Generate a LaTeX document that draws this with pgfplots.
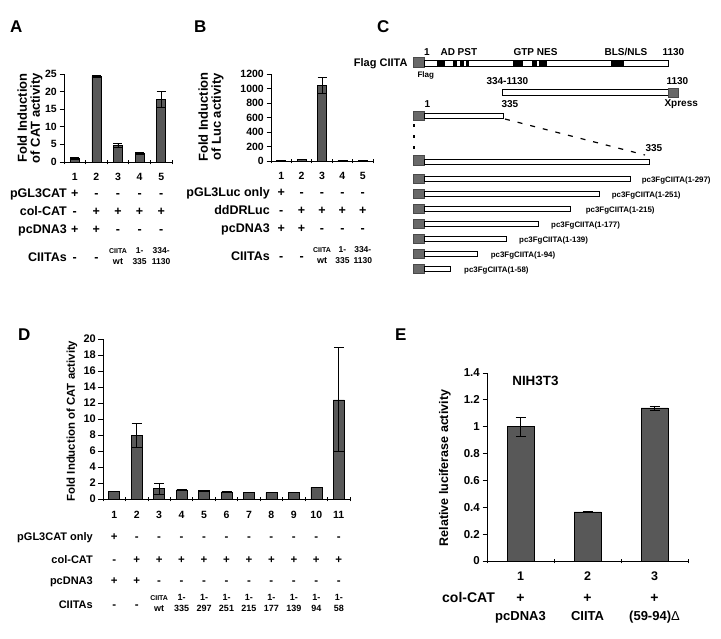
\documentclass[border=0pt]{standalone}
\usepackage{fontspec}
\setmainfont{Liberation Sans}[UprightFont=* Bold, BoldFont=* Bold]
\newfontfamily\regfont{Liberation Sans}
\usepackage{pgfplots}
\pgfplotsset{compat=1.18}

\definecolor{barc}{RGB}{88,88,88}
\definecolor{flagc}{RGB}{105,105,105}

\newcommand{\fsz}[2]{\fontsize{#1}{#2}\selectfont}
% two-line entry of the CIITAs row
\newcommand{\two}[3][9]{\raisebox{2pt}{\smash{\fsz{#1}{11}\begin{tabular}[c]{@{}c@{}}#2\\#3\end{tabular}}}}
\newcommand{\wt}{\two{{\fsz{7}{8}CIITA}}{wt}}
% columns of the tables under the bars
\newcommand{\stkAB}[5]{\begin{tabular}[t]{@{}c@{}}{\fsz{10.5}{12}#1}\\[2pt]#2\\[3pt]#3\\[3pt]#4\\[13pt]#5\end{tabular}}
\newcommand{\stkD}[5]{\begin{tabular}[t]{@{}c@{}}{\fsz{10.5}{12}#1}\\[9pt]#2\\[10pt]#3\\[8pt]#4\\[11pt]#5\end{tabular}}
\newcommand{\stkE}[3]{\begin{tabular}[t]{@{}c@{}}{\fsz{12.5}{14}#1}\\[6.7pt]#2\\[2pt]{\fsz{13}{15}#3}\end{tabular}}
% schematic boxes
\newcommand{\rbox}[5][]{\addplot[#1] coordinates {(#2,#3) (#4,#3) (#4,#5) (#2,#5)} -- cycle;}

\pgfplotsset{
  panel/.style={
    scale only axis, clip=false,
    axis x line=bottom, axis y line=left,
    axis line style={-, line width=0.8pt},
    tick style={black, line width=0.8pt},
    major tick length=4.5pt,
    ytick align=outside, xtick align=center,
    ymin=0, scaled y ticks=false,
    y tick label style={font=\fsz{10.5}{12}, /pgf/number format/assume math mode=true,
      /pgf/number format/1000 sep={}, inner sep=0pt, xshift=-2.5pt},
    xticklabels={},
  },
  bars/.style 2 args={ybar, bar width=#1, fill=barc, draw=black, line width=0.6pt,
    error bars/.cd, y dir=both, y explicit,
    error bar style={line width=0.8pt, black},
    error mark options={rotate=90, mark size=#2, line width=0.8pt, black}},
  flagbox/.style={fill=flagc, draw=flagc!70!black, line width=0.5pt},
  segbar/.style={fill=white, draw=black, line width=1pt},
  blk/.style={fill=black, draw=none},
}

\begin{document}
\begin{tikzpicture}
\path[use as bounding box] (0,0) rectangle (721pt,-638pt);

% panel letters
\begin{scope}[every node/.style={anchor=base west, inner sep=0pt, font=\fsz{17}{19}}]
\node at (10pt,-32pt) {A};
\node at (194pt,-32pt) {B};
\node at (377pt,-32pt) {C};
\node at (18pt,-340pt) {D};
\node at (395pt,-340pt) {E};
\end{scope}

% ---------- A ----------
\begin{axis}[panel, at={(64pt,-162pt)}, anchor=south west, width=108pt, height=88pt,
  xmin=0.5, xmax=5.5, ymax=25, ytick={0,5,10,15,20,25},
  xtick={0.5,1.5,2.5,3.5,4.5,5.5},
  extra x ticks={1,2,3,4,5},
  extra x tick labels={{\stkAB{1}{+}{-}{+}{-}},{\stkAB{2}{-}{+}{+}{-}},{\stkAB{3}{-}{+}{-}{\wt}},
    {\stkAB{4}{-}{+}{-}{\two[8.5]{1-}{335}}},{\stkAB{5}{-}{+}{-}{\two[8.5]{334-}{1130}}}},
  extra x tick style={major tick length=0pt, tick label style={font=\fsz{12.5}{15}, inner sep=0pt, anchor=north, yshift=-7.5pt}},
]
\addplot[bars={9pt}{4.5pt}] coordinates {(1,1.05) +- (0,0.2) (2,24.3) +- (0,0.4) (3,4.8) +- (0,0.6) (4,2.5) +- (0,0.2) (5,17.8) +- (0,2.3)};
\end{axis}
\node[rotate=90, align=center, font=\fsz{13}{13}] at (30pt,-118pt) {Fold Induction\\of CAT activity};
\node[anchor=north east, inner sep=0pt, font=\fsz{12.5}{15}] at (67pt,-169.5pt)
  {\begin{tabular}[t]{@{}r@{}}\\[2pt]pGL3CAT\\[3pt]col-CAT\\[3pt]pcDNA3\\[13pt]CIITAs\end{tabular}};

% ---------- B ----------
\begin{axis}[panel, at={(271pt,-161pt)}, anchor=south west, width=102pt, height=87pt,
  xmin=0.5, xmax=5.5, ymax=1200, ytick={0,200,400,600,800,1000,1200},
  xtick={0.5,1.5,2.5,3.5,4.5,5.5},
  extra x ticks={1,2,3,4,5},
  extra x tick labels={{\stkAB{1}{+}{-}{+}{-}},{\stkAB{2}{-}{+}{+}{-}},{\stkAB{3}{-}{+}{-}{\wt}},
    {\stkAB{4}{-}{+}{-}{\two[8.5]{1-}{335}}},{\stkAB{5}{-}{+}{-}{\two[8.5]{334-}{1130}}}},
  extra x tick style={major tick length=0pt, tick label style={font=\fsz{12.5}{15}, inner sep=0pt, anchor=north, yshift=-7.5pt}},
]
\addplot[bars={9pt}{4.5pt}] coordinates {(1,3) +- (0,0) (2,18) +- (0,0) (3,1040) +- (0,110) (4,6) +- (0,0) (5,6) +- (0,0)};
\end{axis}
\node[rotate=90, align=center, font=\fsz{13}{13}] at (211pt,-117pt) {Fold Induction\\of Luc activity};
\node[anchor=north east, inner sep=0pt, font=\fsz{12.5}{15}] at (270pt,-168.5pt)
  {\begin{tabular}[t]{@{}r@{}}\\[2pt]pGL3Luc only\\[3pt]ddDRLuc\\[3pt]pcDNA3\\[13pt]CIITAs\end{tabular}};

% ---------- C (schematic) ----------
\begin{axis}[at={(370pt,0pt)}, anchor=north west, scale only axis, width=351pt, height=300pt,
  xmin=370, xmax=721, ymin=0, ymax=300, y dir=reverse, hide axis, clip=false,
  every node/.append style={inner sep=0pt, font=\fsz{8.5}{10}}]
% full length
\node[anchor=base east, font=\fsz{11}{13}] at (axis cs:411,66.5) {Flag CIITA};
\rbox[flagbox]{413.5}{57}{424.5}{67}
\rbox[segbar]{424.5}{60.5}{668}{66}
\rbox[blk]{437}{60.5}{445}{66}
\rbox[blk]{453.3}{60.5}{457.3}{66}
\rbox[blk]{460}{60.5}{464}{66}
\rbox[blk]{465.7}{60.5}{469}{66}
\rbox[blk]{512.7}{60.5}{523.3}{66}
\rbox[blk]{532.3}{60.5}{536.7}{66}
\rbox[blk]{539.3}{60.5}{546.7}{66}
\rbox[blk]{610.7}{60.5}{624}{66}
\node[anchor=base] at (axis cs:427,55.7) {1};
\node[anchor=base west] at (axis cs:437,55.7) {AD PST};
\node[anchor=base west] at (axis cs:510,55.7) {GTP NES};
\node[anchor=base west] at (axis cs:601,55.7) {BLS/NLS};
\node[anchor=base west] at (axis cs:659,55.7) {1130};
\node[anchor=base west, font=\fsz{8}{10}] at (axis cs:414,77) {Flag};
% 334-1130
\rbox[segbar]{502}{89.5}{668}{95}
\rbox[flagbox]{668}{88}{678}{97.5}
\node[anchor=base west] at (axis cs:483,84) {334-1130};
\node[anchor=base west] at (axis cs:663,84) {1130};
\node[anchor=base west] at (axis cs:661,106) {Xpress};
% 1-335
\rbox[flagbox]{413.5}{111}{424.5}{120.5}
\rbox[segbar]{424.5}{113}{503}{118.5}
\node[anchor=base] at (axis cs:427.5,107.5) {1};
\node[anchor=base west] at (axis cs:498,107.5) {335};
\addplot[black, line width=1.2pt, dash pattern=on 5pt off 8pt] coordinates {(505,119) (645,155)};
\addplot[black, line width=1.2pt, dash pattern=on 3pt off 8pt] coordinates {(414,124) (414,153)};
% 1-335 enlarged
\rbox[flagbox]{413.5}{155}{424.5}{165}
\rbox[segbar]{424.5}{159}{649}{164.5}
\node[anchor=base west] at (axis cs:642,151) {335};
% deletion constructs
\begin{scope}[every node/.append style={font=\fsz{7.9}{10}}]
\rbox[flagbox]{413.5}{174.7}{424.5}{183.7}
\rbox[segbar]{424.5}{176.5}{630}{181.9}
\node[anchor=base west] at (axis cs:638.3,182.7) {pc3FgCIITA(1-297)};
\rbox[flagbox]{413.5}{189.3}{424.5}{198.3}
\rbox[segbar]{424.5}{191.1}{599.3}{196.5}
\node[anchor=base west] at (axis cs:608.3,197.3) {pc3FgCIITA(1-251)};
\rbox[flagbox]{413.5}{204.3}{424.5}{213.3}
\rbox[segbar]{424.5}{206.1}{570.7}{211.5}
\node[anchor=base west] at (axis cs:582.3,212.3) {pc3FgCIITA(1-215)};
\rbox[flagbox]{413.5}{219.3}{424.5}{228.3}
\rbox[segbar]{424.5}{221.1}{538.3}{226.5}
\node[anchor=base west] at (axis cs:547.7,227.3) {pc3FgCIITA(1-177)};
\rbox[flagbox]{413.5}{234.3}{424.5}{243.3}
\rbox[segbar]{424.5}{236.1}{506}{241.5}
\node[anchor=base west] at (axis cs:515.7,242.3) {pc3FgCIITA(1-139)};
\rbox[flagbox]{413.5}{249.3}{424.5}{258.3}
\rbox[segbar]{424.5}{251.1}{477.3}{256.5}
\node[anchor=base west] at (axis cs:487.3,257.3) {pc3FgCIITA(1-94)};
\rbox[flagbox]{413.5}{264.2}{424.5}{273.2}
\rbox[segbar]{424.5}{266}{450}{271.4}
\node[anchor=base west] at (axis cs:460.7,272.2) {pc3FgCIITA(1-58)};
\end{scope}
\end{axis}

% ---------- D ----------
\begin{axis}[panel, at={(103pt,-499pt)}, anchor=south west, width=247pt, height=160pt,
  xmin=0.5, xmax=11.5, ymax=20, ytick={0,2,4,6,8,10,12,14,16,18,20},
  y tick label style={font=\fsz{11}{13}},
  xtick={0.5,1.5,2.5,3.5,4.5,5.5,6.5,7.5,8.5,9.5,10.5,11.5},
  extra x ticks={1,2,3,4,5,6,7,8,9,10,11},
  extra x tick labels={{\stkD{1}{+}{-}{+}{-}},{\stkD{2}{-}{+}{+}{-}},{\stkD{3}{-}{+}{-}{\wt}},
    {\stkD{4}{-}{+}{-}{\two{1-}{335}}},{\stkD{5}{-}{+}{-}{\two{1-}{297}}},{\stkD{6}{-}{+}{-}{\two{1-}{251}}},
    {\stkD{7}{-}{+}{-}{\two{1-}{215}}},{\stkD{8}{-}{+}{-}{\two{1-}{177}}},{\stkD{9}{-}{+}{-}{\two{1-}{139}}},
    {\stkD{10}{-}{+}{-}{\two{1-}{94}}},{\stkD{11}{-}{+}{-}{\two{1-}{58}}}},
  extra x tick style={major tick length=0pt, tick label style={font=\fsz{11.5}{13}, inner sep=0pt, anchor=north, yshift=-9.9pt}},
]
\addplot[bars={11pt}{5pt}] coordinates {
  (1,1.0) +- (0,0) (2,8.0) +- (0,1.5) (3,1.3) +- (0,0.7) (4,1.15) +- (0,0.08)
  (5,1.05) +- (0,0.04) (6,0.88) +- (0,0.05) (7,0.82) +- (0,0) (8,0.8) +- (0,0)
  (9,0.8) +- (0,0) (10,1.45) +- (0,0.06) (11,12.4) +- (0,6.5)};
\end{axis}
\node[rotate=90, font=\fsz{11.4}{13}] at (72pt,-421pt) {Fold Induction of CAT activity};
\node[anchor=north east, inner sep=0pt, font=\fsz{11}{13}] at (93pt,-508.9pt)
  {\begin{tabular}[t]{@{}r@{}}\\[9pt]pGL3CAT only\\[10pt]col-CAT\\[8pt]pcDNA3\\[11pt]CIITAs\end{tabular}};

% ---------- E ----------
\begin{axis}[panel, at={(487pt,-561pt)}, anchor=south west, width=201pt, height=188pt,
  xmin=0.5, xmax=3.5, ymax=1.4, ytick={0,0.2,0.4,0.6,0.8,1,1.2,1.4},
  y tick label style={font=\fsz{11.5}{13}},
  xtick={0.5,1.5,2.5,3.5},
  extra x ticks={1,2,3},
  extra x tick labels={{\stkE{1}{+}{pcDNA3}},{\stkE{2}{+}{CIITA}},{\stkE{3}{+}{(59-94){\regfont Δ}}}},
  extra x tick style={major tick length=0pt, tick label style={font=\fsz{14}{16}, inner sep=0pt, anchor=north, yshift=-7.8pt}},
]
\addplot[bars={27pt}{5pt}] coordinates {
  (1,1.0) +- (0,0.07) (2,0.365) +- (0,0.006) (3,1.14) +- (0,0.015)};
\node[anchor=base west, inner sep=0pt, font=\fsz{13.4}{15}] at (axis cs:0.875,1.31) {NIH3T3};
\end{axis}
\node[rotate=90, font=\fsz{12.5}{14}] at (445pt,-468pt) {Relative luciferase activity};
\node[anchor=north east, inner sep=0pt, font=\fsz{14}{16}] at (495pt,-568.8pt)
  {\begin{tabular}[t]{@{}r@{}}\\[6.7pt]col-CAT\end{tabular}};
\end{tikzpicture}
\end{document}
